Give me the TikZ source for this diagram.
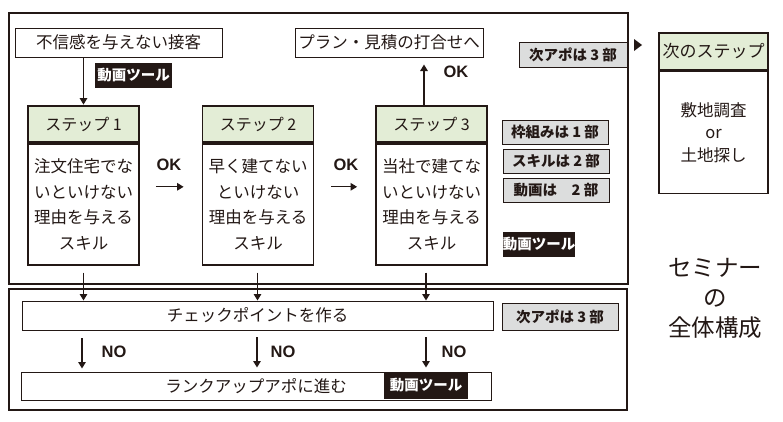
\documentclass[tikz,border=0pt]{standalone}
\usepackage{fontspec}
\setmainfont{Noto Sans CJK JP}
\newfontfamily\lat{Liberation Sans}
\usetikzlibrary{arrows.meta,calc}
\definecolor{ink}{HTML}{231815}
\definecolor{hdr}{HTML}{E3EDD6}
\definecolor{gry}{HTML}{DCDDDD}
\begin{document}
\begin{tikzpicture}[x=1pt,y=-1pt,
  every node/.style={inner sep=0pt, text=ink, font=\fontsize{16}{20}\selectfont},
  frame/.style={draw=ink, line width=2pt},
  plainbox/.style={draw=ink, line width=1pt, font=\fontsize{16.5}{20}\selectfont},
  hdrbox/.style={draw=ink, line width=1.8pt, fill=hdr, minimum width=111pt, minimum height=36pt},
  bodybox/.style={draw=ink, line width=1.8pt, minimum width=111pt, minimum height=121pt, align=center, font=\fontsize{16.5}{25.5}\selectfont},
  graybox/.style={draw=ink, line width=1pt, fill=gry, font=\bfseries\fontsize{14.5}{16}\selectfont},
  blackbox/.style={fill=ink, text=white, font=\bfseries\fontsize{14.5}{16}\selectfont},
  arr/.style={draw=ink, line width=1.3pt, -{Triangle[width=7.5pt,length=6.5pt]}},
  lbl/.style={font=\lat\bfseries\fontsize{16.5}{18}\selectfont}]
\useasboundingbox[fill=white] (0,0) rectangle (783,421);
% frames
\draw[frame] (9,13) rectangle (628,284);
\draw[frame] (9,289) rectangle (627,410);
% top part
\node[plainbox, minimum width=207pt, minimum height=29pt] (fushin) at (118.5,42.5) {不信感を与えない接客};
\node[blackbox, minimum width=77pt, minimum height=25pt] (tool1) at (133.5,75.5) {動画ツール};
\node[plainbox, minimum width=188pt, minimum height=29pt] (plan) at (389,42.5) {プラン・見積の打合せへ};
\node[graybox, minimum width=108pt, minimum height=25pt] (apo1) at (573,54.5) {次アポは 3 部};
\fill[ink] (634,39) -- (642,45) -- (634,51) -- cycle;
% steps
\node[hdrbox] (s1h) at (83.5,124) {ステップ 1};
\node[bodybox, anchor=north] (s1b) at (s1h.south) {注文住宅でな\\いといけない\\理由を与える\\スキル};
\node[hdrbox] (s2h) at (258,124) {ステップ 2};
\node[bodybox, anchor=north] (s2b) at (s2h.south) {早く建てない\\といけない\\理由を与える\\スキル};
\node[hdrbox] (s3h) at (431.5,124) {ステップ 3};
\node[bodybox, anchor=north] (s3b) at (s3h.south) {当社で建てな\\いといけない\\理由を与える\\スキル};
% gray boxes
\node[graybox, minimum width=106pt, minimum height=24pt] (waku) at (555,132) {枠組みは 1 部};
\node[graybox, minimum width=106pt, minimum height=24pt] (skill) at (556,161) {スキルは 2 部};
\node[graybox, minimum width=106pt, minimum height=24pt] (douga) at (556,190) {動画は　2 部};
\node[blackbox, minimum width=72pt, minimum height=25pt] (tool2) at (539,244.5) {動画ツール};
% arrows top
\draw[arr, shorten >=0.5pt] (fushin.south -| s1h.north) -- (s1h.north);
\draw[arr] ($(s1b.east)+(16,-17.5)$) -- ($(s2b.west)+(-18,-17.5)$);
\node[lbl] (ok1) at (169,165) {OK};
\draw[arr] ($(s2b.east)+(17,-17.5)$) -- ($(s3b.west)+(-18,-17.5)$);
\node[lbl] (ok2) at (346,165) {OK};
\coordinate (u3) at ($(s3h.north)+(-7.5,0)$);
\draw[arr, shorten >=7pt] (u3) -- (u3 |- plan.south);
\node[lbl] (ok3) at (456,72) {OK};
% bottom part
\node[plainbox, minimum width=471pt, minimum height=29pt] (check) at (257.5,315.5) {チェックポイントを作る};
\node[graybox, minimum width=116pt, minimum height=27pt] (apo2) at (560,316.5) {次アポは 3 部};
\node[plainbox, minimum width=470pt, minimum height=28pt] (rank) at (256,386) {ランクアップアポに進む};
\node[blackbox, minimum width=84pt, minimum height=27pt] (tool3) at (426,385.5) {動画ツール};
\coordinate (d1) at ($(s1b.south)+(0,7)$);
\coordinate (d2) at ($(s2b.south)+(-0.5,7)$);
\coordinate (d3) at ($(s3b.south)+(-5.5,7)$);
\draw[arr] (d1) -- (d1 |- check.north);
\draw[arr] (d2) -- (d2 |- check.north);
\draw[arr] (d3) -- (d3 |- check.north);
\coordinate (n1) at (82,338);
\coordinate (n2) at (257,337);
\coordinate (n3) at (426,337);
\draw[arr, shorten >=3pt] (n1) -- (n1 |- rank.north);
\draw[arr, shorten >=4pt] (n2) -- (n2 |- rank.north);
\draw[arr, shorten >=4pt] (n3) -- (n3 |- rank.north);
\node[lbl] (no1) at (114,352) {NO};
\node[lbl] (no2) at (283,352) {NO};
\node[lbl] (no3) at (454,352) {NO};
% next step
\node[draw=ink, line width=1.5pt, fill=hdr, minimum width=109pt, minimum height=37pt, font=\fontsize{17}{20}\selectfont] (nh) at (713.5,51.5) {次のステップ};
\node[draw=ink, line width=1.5pt, minimum width=109pt, minimum height=122pt, anchor=north, align=center, font=\fontsize{16.5}{22.5}\selectfont] (nb) at (nh.south) {敷地調査\\or\\土地探し};
% title
\node[align=center, font=\fontsize{23.5}{30}\selectfont] (sem) at (715,298) {セミナー\\の\\全体構成};
\end{tikzpicture}
\end{document}
